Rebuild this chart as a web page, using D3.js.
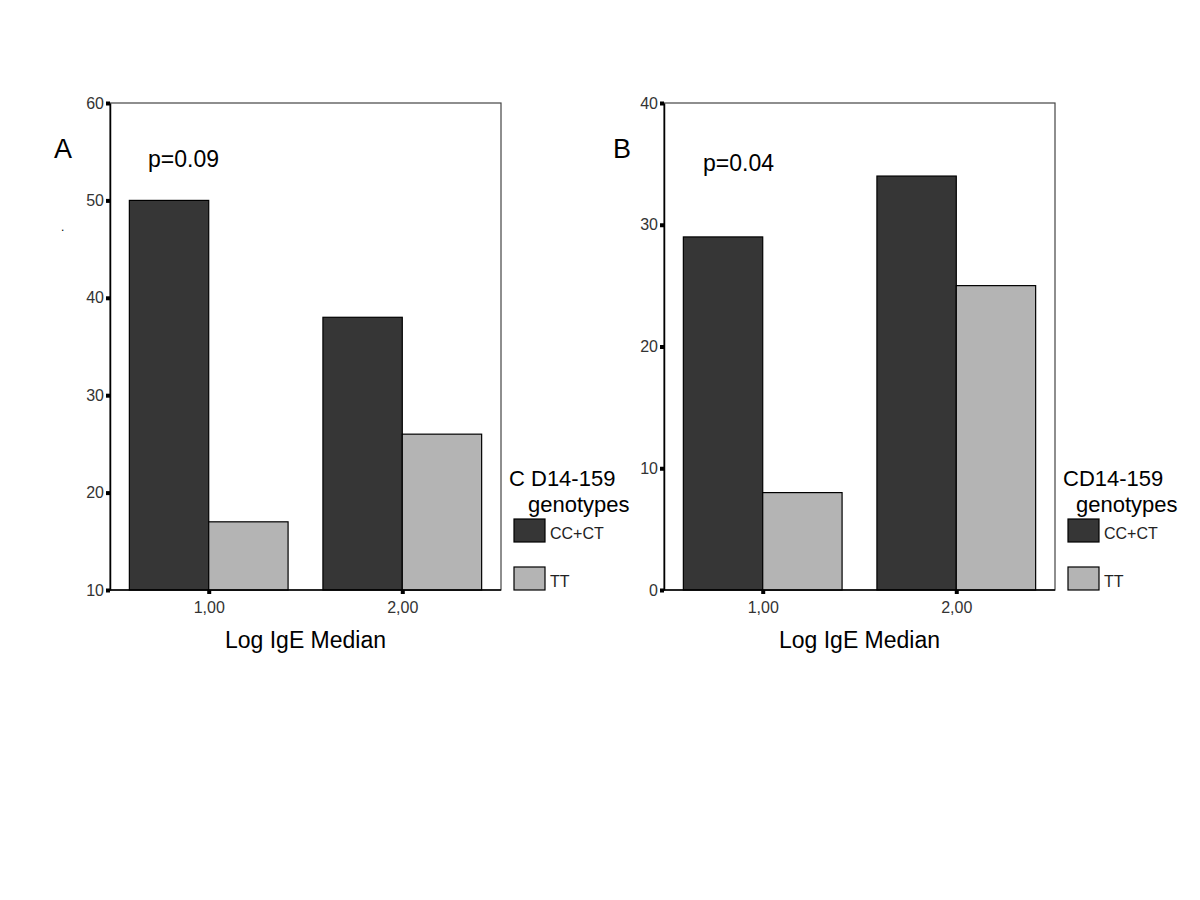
<!DOCTYPE html>
<html><head><meta charset="utf-8">
<script src="https://cdn.jsdelivr.net/npm/d3@7"></script>
<style>body{margin:0;background:#fff;} text{font-family:"Liberation Sans",Arial,sans-serif;}</style>
</head><body>
<svg id="c" width="1200" height="900"></svg>
<script>
const categories = ["1,00", "2,00"];
const seriesNames = ["CC+CT", "TT"];
const valuesA = [[50, 17], [38, 26]]; // per category: [CC+CT, TT]
const valuesB = [[29, 8], [34, 25]];
const ticksA = [10, 20, 30, 40, 50, 60];
const ticksB = [0, 10, 20, 30, 40];
const colors = ["#363636", "#b4b4b4"];

const svg = d3.select("#c");

function panel(cfg) {
  const g = svg.append("g");
  const left = cfg.x0, right = cfg.x0 + 391, top = 103, bottom = 590;
  const y = d3.scaleLinear().domain(cfg.domain).range([bottom, top]);
  const x = d3.scaleBand().domain(categories).range([left, right]).paddingInner(0.18).paddingOuter(0.1);
  const xs = d3.scaleBand().domain(seriesNames).range([0, x.bandwidth()]);

  // frame
  g.append("rect").attr("x", left).attr("y", top).attr("width", right - left).attr("height", bottom - top)
    .attr("fill", "none").attr("stroke", "#444").attr("stroke-width", 1.2);

  // bars
  categories.forEach((c, i) => {
    seriesNames.forEach((s, j) => {
      const v = cfg.values[i][j];
      g.append("rect").attr("x", x(c) + xs(s)).attr("y", y(v))
        .attr("width", xs.bandwidth()).attr("height", y(cfg.domain[0]) - y(v))
        .attr("fill", colors[j]).attr("stroke", "#000").attr("stroke-width", 1.2);
    });
  });

  // y axis
  const ya = d3.axisLeft(y).tickValues(cfg.ticks).tickSize(0).tickPadding(6).tickFormat(d3.format("d"));
  const yg = g.append("g").attr("transform", `translate(${left},0)`).call(ya);
  yg.select(".domain").attr("stroke", "#000").attr("stroke-width", 1.5);
  yg.selectAll("text").attr("font-size", 16).attr("fill", "#333").attr("font-family", "Liberation Sans, Arial");
  yg.selectAll(".tick").append("rect").attr("x", -4).attr("y", -2).attr("width", 4).attr("height", 4).attr("fill", "#000");

  // x axis
  const xa = d3.axisBottom(d3.scalePoint().domain(categories).range([x(categories[0]) + x.bandwidth() / 2, x(categories[1]) + x.bandwidth() / 2]))
    .tickSize(0).tickPadding(12);
  const xg = g.append("g").attr("transform", `translate(0,${bottom})`).call(xa);
  xg.select(".domain").remove();
  g.append("line").attr("x1", left).attr("x2", right).attr("y1", bottom).attr("y2", bottom).attr("stroke", "#000").attr("stroke-width", 1.5);
  xg.selectAll("text").attr("font-size", 16).attr("fill", "#333").attr("font-family", "Liberation Sans, Arial");
  xg.selectAll(".tick").append("rect").attr("x", -2).attr("y", 0).attr("width", 4).attr("height", 4).attr("fill", "#000");

  // x title
  g.append("text").attr("x", (left + right) / 2).attr("y", 648).attr("text-anchor", "middle")
    .attr("font-size", 23).attr("fill", "#000").text("Log IgE Median");

  // panel label & p value
  g.append("text").attr("x", cfg.labelX).attr("y", 158).attr("font-size", 27).attr("fill", "#000").text(cfg.label);
  g.append("text").attr("x", cfg.pX).attr("y", cfg.pY).attr("font-size", 23).attr("fill", "#000").text(cfg.p);

  // legend
  const lx = right + 13;
  g.append("text").attr("x", right + 8).attr("y", 486).attr("font-size", 22).attr("fill", "#000").text(cfg.legendTitle);
  g.append("text").attr("x", right + cfg.genX).attr("y", 512).attr("font-size", 22).attr("fill", "#000").text("genotypes");
  seriesNames.forEach((s, j) => {
    const yy = 519 + j * 48;
    g.append("rect").attr("x", lx).attr("y", yy).attr("width", 31).attr("height", 23)
      .attr("fill", colors[j]).attr("stroke", "#000").attr("stroke-width", 1.2);
    g.append("text").attr("x", lx + 36).attr("y", yy + 20).attr("font-size", 16).attr("fill", "#222").text(s);
  });
  return g;
}

panel({x0: 110, domain: [10, 60], ticks: ticksA, values: valuesA, label: "A", labelX: 54, p: "p=0.09", pX: 148, pY: 167, legendTitle: "C D14-159", genX: 27});
panel({x0: 664, domain: [0, 40], ticks: ticksB, values: valuesB, label: "B", labelX: 613, p: "p=0.04", pX: 703, pY: 171, legendTitle: "CD14-159", genX: 21});

svg.append("text").attr("x", 61).attr("y", 231).attr("font-size", 12).attr("fill", "#000").text(".");
</script>
</body></html>
